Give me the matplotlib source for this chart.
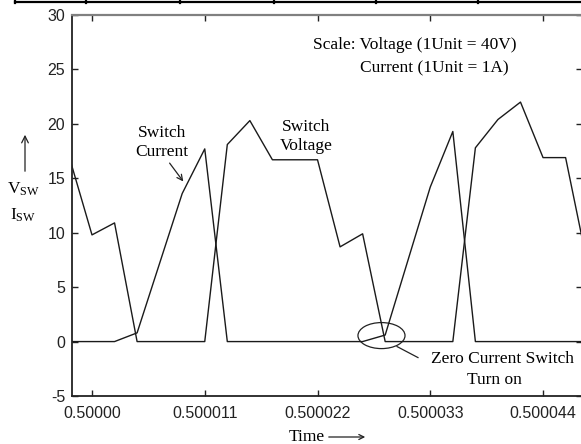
import matplotlib
matplotlib.use("Agg")
import matplotlib.pyplot as plt
from matplotlib.lines import Line2D
from matplotlib.patches import Ellipse, FancyArrowPatch

plt.rcParams["mathtext.fontset"] = "custom"
plt.rcParams["mathtext.rm"] = "Liberation Serif"
plt.rcParams["mathtext.it"] = "Liberation Serif:italic"
plt.rcParams["axes.unicode_minus"] = False

# sample times, microseconds after t = 0.5 s
time_us = [-2.2, 0.0, 2.2, 4.4, 6.6, 8.8, 11.0, 13.2, 15.4, 17.6, 19.8, 22.0,
           24.2, 26.4, 28.6, 30.8, 33.0, 35.2, 37.4, 39.6, 41.8, 44.0, 46.2, 48.4]
switch_voltage = [16.9, 9.8, 10.9, 0, 0, 0, 0, 18.1, 20.3, 16.7, 16.7, 16.7,
                  8.7, 9.9, 0, 0, 0, 0, 17.8, 20.4, 22.0, 16.9, 16.9, 6.8]
switch_current = [0, 0, 0, 0.8, 7.2, 13.6, 17.7, 0, 0, 0, 0, 0,
                  0, 0, 0.6, 7.4, 14.2, 19.3, 0, 0, 0, 0, 0, 0]

x_ticks = [0, 11, 22, 33, 44]
x_tick_labels = ["0.50000", "0.500011", "0.500022", "0.500033", "0.500044"]
y_ticks = [-5, 0, 5, 10, 15, 20, 25, 30]

W, H = 581, 444


def fx(px):
    return px / W


def fy(py):
    return 1 - py / H


fig = plt.figure(figsize=(W / 100, H / 100), dpi=100)
ax = fig.add_axes([fx(72), fy(396), (582 - 72) / W, (396 - 15) / H])

ax.plot(time_us, switch_voltage, color="#1a1a1a", lw=1.0)
ax.plot(time_us, switch_current, color="#1a1a1a", lw=1.0)

ax.set_xlim(-1.95, 47.8)
ax.set_ylim(-5, 30)
ax.set_xticks(x_ticks)
ax.set_xticklabels(x_tick_labels)
ax.set_yticks(y_ticks)
ax.tick_params(axis="both", direction="in", top=True, right=True, length=4,
               width=1, colors="#222222", labelsize=11.5)
ax.tick_params(axis="y", pad=5)
ax.tick_params(axis="x", pad=7)
for lab in ax.get_xticklabels() + ax.get_yticklabels():
    lab.set_fontfamily("Liberation Sans")

for side in ["left", "bottom"]:
    ax.spines[side].set_color("#222222")
    ax.spines[side].set_linewidth(1.3)
ax.spines["top"].set_color("#808080")
ax.spines["top"].set_linewidth(1.6)

serif = "Liberation Serif"
fs = 12.5

# annotations on the traces
ax.text(6.83, 18.3, "Switch\nCurrent", ha="center", va="center",
        family=serif, fontsize=fs, linespacing=1.3)
ax.annotate("", xy=(9.07, 14.5), xytext=(7.41, 16.6),
            arrowprops=dict(arrowstyle="->", color="#222222", lw=0.9))
ax.text(20.9, 18.8, "Switch\nVoltage", ha="center", va="center",
        family=serif, fontsize=fs, linespacing=1.25)

ax.text(31.5, 27.25, "Scale: Voltage (1Unit = 40V)", ha="center", va="center",
        family=serif, fontsize=fs)
ax.text(33.4, 25.1, "Current (1Unit = 1A)", ha="center", va="center",
        family=serif, fontsize=fs)

ax.add_patch(Ellipse((28.24, 0.55), 4.59, 2.39, fill=False, ec="#222222", lw=0.9))
ax.plot([29.76, 31.8], [-0.46, -1.47], color="#222222", lw=0.9)
ax.text(40.0, -1.56, "Zero Current Switch", ha="center", va="center",
        family=serif, fontsize=fs)
ax.text(39.3, -3.49, "Turn on", ha="center", va="center",
        family=serif, fontsize=fs)

# axis labels drawn as in the original figure
fig.add_artist(FancyArrowPatch(
    (fx(25), fy(174)), (fx(25), fy(132)), transform=fig.transFigure,
    arrowstyle="->", mutation_scale=12, color="#222222", lw=0.9))
fig.text(fx(23), fy(189), r"V$_{\mathrm{SW}}$", ha="center", va="center",
         family=serif, fontsize=fs)
fig.text(fx(23), fy(215), r"I$_{\mathrm{SW}}$", ha="center", va="center",
         family=serif, fontsize=fs)

fig.text(fx(307), fy(437), "Time", ha="center", va="center",
         family=serif, fontsize=fs)
fig.add_artist(FancyArrowPatch(
    (fx(326), fy(437)), (fx(368), fy(437)), transform=fig.transFigure,
    arrowstyle="->", mutation_scale=9, color="#222222", lw=0.9))

# cropped table border at the very top of the picture
fig.add_artist(Line2D([fx(15), fx(581)], [fy(2), fy(2)], color="black", lw=1.6))
for px in [15, 86, 180, 274, 376, 478]:
    fig.add_artist(Line2D([fx(px), fx(px)], [fy(0), fy(3)], color="black", lw=1.6))

fig.savefig("out.png", dpi=100)
